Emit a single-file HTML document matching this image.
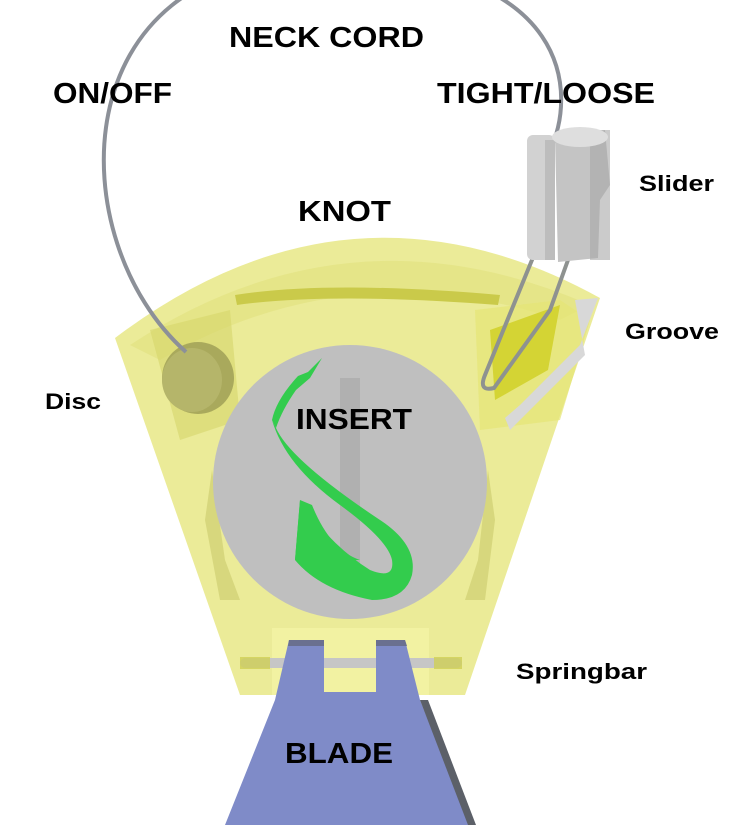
<!DOCTYPE html>
<html><head><meta charset="utf-8"><style>
html,body{margin:0;padding:0;background:#fff;}
svg{display:block}
text{font-family:"Liberation Sans",sans-serif;font-weight:bold;fill:#000}
</style></head><body>
<svg width="745" height="825" viewBox="0 0 745 825" xmlns="http://www.w3.org/2000/svg">
<rect width="745" height="825" fill="#fff"/>
<!-- body -->
<path d="M115,338 Q350,160 600,298 L465,695 L240,695 Z" fill="#ebeb98"/>
<path d="M130,345 Q350,200 590,305 L560,320 Q350,250 160,360 Z" fill="#e2e282" opacity="0.7"/>
<path d="M150,330 L230,310 L240,420 L180,440 Z" fill="#d6d66a" opacity="0.6"/>
<path d="M235,295 Q330,280 500,295 L498,305 Q330,292 237,305 Z" fill="#caca4a"/>
<path d="M475,310 L560,300 L590,320 L560,420 L480,430 Z" fill="#e6e676" opacity="0.7"/>
<path d="M490,330 L560,305 L548,370 L495,400 Z" fill="#d4d434"/>
<path d="M575,300 L598,298 L580,345 L520,405 L505,418 L510,430 L540,400 L585,355 Z" fill="#d8d8d8"/>
<path d="M212,470 L225,560 L240,600 L220,600 L205,520 Z" fill="#c9c96a" opacity="0.6"/>
<path d="M488,470 L478,560 L465,600 L485,600 L495,520 Z" fill="#c9c96a" opacity="0.6"/>
<!-- disc -->
<circle cx="198" cy="378" r="36" fill="#a9a95c"/>
<ellipse cx="192" cy="380" rx="30" ry="32" fill="#b5b56a"/>
<!-- insert -->
<circle cx="350" cy="482" r="137" fill="#bfbfbf"/>
<rect x="340" y="378" width="20" height="200" fill="#b0b0b0"/>
<!-- sax -->
<path d="M322,358 L308,372 L298,376 Q276,400 272,420 L276,428 Q282,410 296,390 L310,378 Z" fill="#33cc4d"/>
<path d="M276,428 Q290,460 380,520 Q418,545 412,575 Q405,600 372,600 Q320,590 295,560 L300,500 Q330,545 370,570 Q395,580 392,560 Q388,540 340,505 Q285,465 272,420 Z" fill="#33cc4d"/>
<path d="M300,500 L312,505 Q330,550 360,560 L295,560 Z" fill="#33cc4d"/>
<!-- springbar / blade -->
<rect x="272" y="628" width="157" height="67" fill="#f6f6a8" opacity="0.6"/>
<rect x="240" y="658" width="222" height="10" rx="5" fill="#c6c6c6"/>
<rect x="240" y="657" width="30" height="12" fill="#cfcf55" opacity="0.8"/>
<rect x="434" y="657" width="28" height="12" fill="#cfcf55" opacity="0.8"/>
<path d="M289,640 L324,640 L324,692 L376,692 L376,640 L405,640 L420,700 L470,825 L225,825 L275,700 Z" fill="#7f8bc8"/>
<path d="M289,640 L324,640 L324,646 L288,646 Z M376,640 L405,640 L407,646 L376,646 Z" fill="#6a7090"/>
<path d="M420,700 L428,700 L476,825 L468,825 Z" fill="#5c6068"/>
<!-- cord -->
<path d="M186,352 C60,240 60,-40 320,-40 C580,-40 575,100 550,150" fill="none" stroke="#8c9098" stroke-width="4"/>
<path d="M534,255 L485,375 Q478,392 494,388 L550,310 L568,260" fill="none" stroke="#8e9290" stroke-width="4"/>
<!-- slider -->
<rect x="527" y="135" width="28" height="125" rx="6" fill="#d2d2d2"/>
<rect x="545" y="140" width="10" height="120" fill="#bdbdbd"/>
<path d="M555,138 L605,130 L610,185 L600,200 L598,258 L558,262 Z" fill="#c4c4c4"/>
<rect x="590" y="130" width="20" height="130" fill="#a8a8a8" opacity="0.6"/>
<ellipse cx="580" cy="137" rx="28" ry="10" fill="#dedede"/>
<!-- labels -->
<text x="229" y="47" font-size="29" textLength="195" lengthAdjust="spacingAndGlyphs">NECK CORD</text>
<text x="53" y="103" font-size="29" textLength="119" lengthAdjust="spacingAndGlyphs">ON/OFF</text>
<text x="437" y="103" font-size="29" textLength="218" lengthAdjust="spacingAndGlyphs">TIGHT/LOOSE</text>
<text x="298" y="221" font-size="29" textLength="93" lengthAdjust="spacingAndGlyphs">KNOT</text>
<text x="639" y="191" font-size="22" textLength="75" lengthAdjust="spacingAndGlyphs">Slider</text>
<text x="625" y="339" font-size="22" textLength="94" lengthAdjust="spacingAndGlyphs">Groove</text>
<text x="45" y="409" font-size="22" textLength="56" lengthAdjust="spacingAndGlyphs">Disc</text>
<text x="296" y="429" font-size="29" textLength="116" lengthAdjust="spacingAndGlyphs">INSERT</text>
<text x="516" y="679" font-size="22" textLength="131" lengthAdjust="spacingAndGlyphs">Springbar</text>
<text x="285" y="763" font-size="29" textLength="108" lengthAdjust="spacingAndGlyphs">BLADE</text>
</svg>
</body></html>
